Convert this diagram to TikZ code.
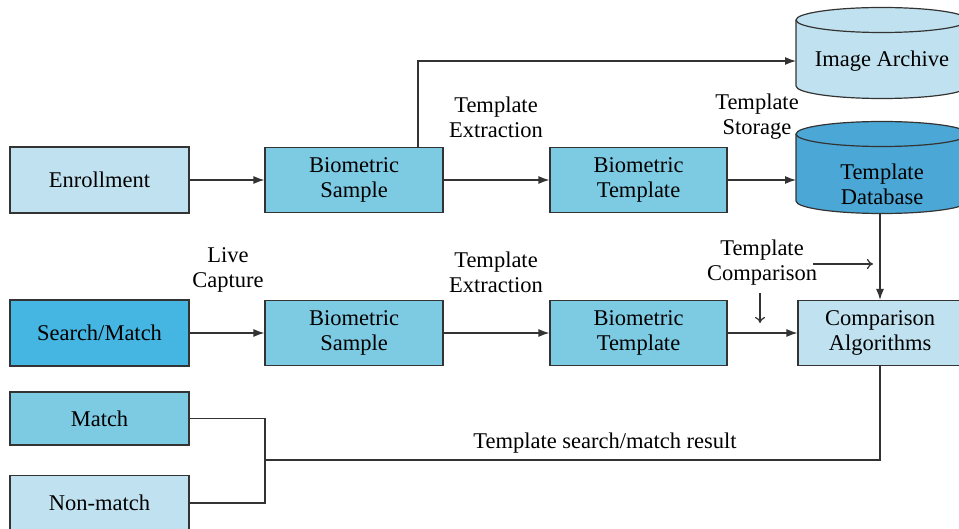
\documentclass[tikz,border=0pt]{standalone}
\usepackage{fontspec}
\setmainfont{Liberation Serif}
\usetikzlibrary{arrows.meta}
\definecolor{lightbox}{HTML}{C0E2F0}
\definecolor{midbox}{HTML}{7DCAE3}
\definecolor{darkbox}{HTML}{45B6E2}
\definecolor{dbblue}{HTML}{4BA8D6}
\definecolor{edge}{HTML}{333333}
\tikzset{
  px/.style={x=1pt,y=-1pt},
  box/.style={draw=edge,line width=1.2pt,rectangle,align=center,inner sep=0pt,
    font=\fontsize{22.5}{25}\selectfont},
  lbl/.style={align=center,inner sep=0pt,font=\fontsize{22.5}{25}\selectfont},
  link/.style={draw=edge,line width=1.2pt},
  flow/.style={link,-{Latex[length=11pt,width=8pt]}},
  hint/.style={link,-{To[length=6pt,width=10pt]}},
}
\begin{document}
\begin{tikzpicture}[px]
\useasboundingbox (0,0) rectangle (959,529);
\clip (0,0) rectangle (959,529);

% storage cylinders (y axis points down, so arcs run the other way round)
\def\cyl#1#2#3#4#5{% fill, left, right, top-centre y, bottom-centre y
  \fill[#1] (#2,#4) -- (#2,#5) arc[start angle=180,end angle=0,x radius={(#3-#2)/2},y radius=12.5]
    -- (#3,#4) arc[start angle=0,end angle=-180,x radius={(#3-#2)/2},y radius=12.5] -- cycle;
  \draw[edge,line width=1.2pt] (#2,#4) -- (#2,#5) arc[start angle=180,end angle=0,x radius={(#3-#2)/2},y radius=12.5] -- (#3,#4);
  \draw[edge,line width=1.2pt] ({(#2+#3)/2},#4) ellipse[x radius={(#3-#2)/2},y radius=12.5];
}
\cyl{lightbox}{796}{968}{20}{86}
\cyl{dbblue}{796}{968}{134}{201}
\node[lbl] (arch) at (882,61) {Image Archive};
\node[lbl] (db) at (882,184) {Template\\Database};
\coordinate (archin) at (796,61);
\coordinate (dbin) at (796,180);
\coordinate (dbout) at (880,213);

% enrollment row
\node[box,fill=lightbox,minimum width=179pt,minimum height=66pt] (enroll) at (99.5,180) {Enrollment};
\node[box,fill=midbox,minimum width=178pt,minimum height=65pt] (samp1) at (354,180) {Biometric\\Sample};
\node[box,fill=midbox,minimum width=177pt,minimum height=65pt] (tmpl1) at (638.5,180) {Biometric\\Template};

% search row
\node[box,fill=darkbox,minimum width=179pt,minimum height=66pt] (search) at (99.5,333) {Search/Match};
\node[box,fill=midbox,minimum width=178pt,minimum height=65pt] (samp2) at (354,333) {Biometric\\Sample};
\node[box,fill=midbox,minimum width=177pt,minimum height=65pt] (tmpl2) at (638.5,333) {Biometric\\Template};
\node[box,fill=lightbox,minimum width=164pt,minimum height=65pt] (comp) at (880,333) {Comparison\\Algorithms};

% outcomes
\node[box,fill=midbox,minimum width=179pt,minimum height=53pt] (match) at (99.5,418.5) {Match};
\node[box,fill=lightbox,minimum width=179pt,minimum height=55pt] (nonmatch) at (99.5,503) {Non-match};

% step labels
\node[lbl] (ext1) at (496,117) {Template\\Extraction};
\node[lbl] (stor) at (757,117) {Template\\Storage};
\node[lbl] (live) at (228,270) {Live\\Capture};
\node[lbl] (ext2) at (496,272) {Template\\Extraction};
\node[lbl] (cmpl) at (762,263) {Template\\Comparison};
\node[lbl] (res) at (605,443) {Template search/match result};

% connectors
\draw[flow] (enroll.east) -- (samp1.west);
\draw[flow] (samp1.east) -- (tmpl1.west);
\draw[flow] (tmpl1.east) -- (dbin);
\draw[flow] (samp1.north -| 418,0) -- (418,61) -- (archin);
\draw[flow] (search.east) -- (samp2.west);
\draw[flow] (samp2.east) -- (tmpl2.west);
\draw[flow] (tmpl2.east) -- (comp.west);
\draw[flow] (dbout) -- (comp.north -| dbout);
\coordinate (hr0) at (813,264);
\coordinate (hr1) at (873,264);
\coordinate (hd0) at (760,293);
\coordinate (hd1) at (760,323);
\draw[hint] (hr0) -- (hr1);
\draw[hint] (hd0) -- (hd1);
\coordinate (fork) at (265,460);
\draw[link] (match.east) -- (match.east -| fork) -- (nonmatch.east -| fork) -- (nonmatch.east);
\draw[link] (fork) -- (880,460) -- (comp.south -| 880,0);
\end{tikzpicture}
\end{document}
